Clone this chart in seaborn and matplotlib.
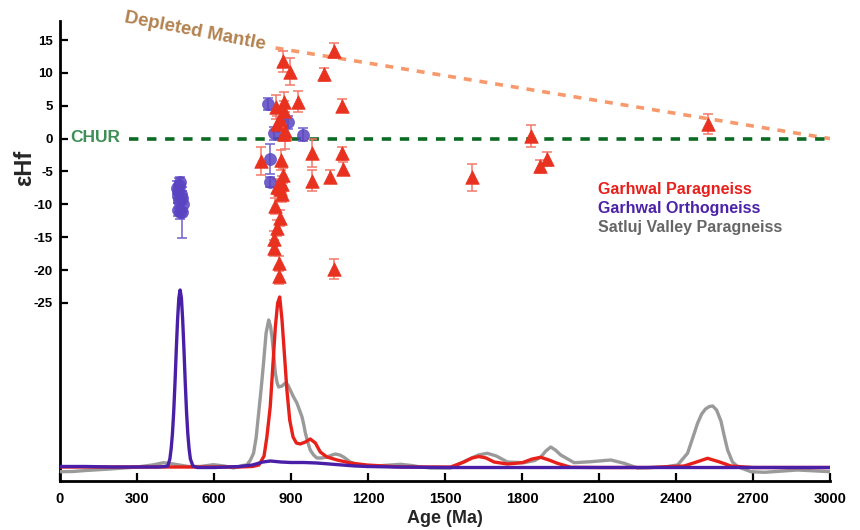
import matplotlib
matplotlib.use("Agg")
import matplotlib.pyplot as plt
import seaborn as sns

# Hf isotope data (age in Ma, epsilon Hf, 2 sigma)
gp_age = [867, 895, 1066, 1027, 1099, 927, 843, 874, 871, 858, 845, 878, 871,
          784, 862, 982, 1099, 1103, 1051, 982, 869, 865, 845, 856, 865, 839,
          856, 845, 835, 835, 852, 852, 1066, 1606, 1834, 1869, 1897, 2524]
gp_ehf = [11.8, 10.2, 13.4, 9.8, 5.0, 5.6, 4.8, 5.6, 4.2, 3.0, 2.2, 1.2, 0.7,
          -3.4, -3.3, -2.2, -2.2, -4.6, -5.8, -6.4, -5.6, -6.9, -7.3, -7.6, -8.4, -10.2,
          -12.1, -13.6, -15.2, -16.7, -19.0, -20.9, -19.8, -5.9, 0.4, -4.2, -3.1, 2.2]
gp_err = [1.6, 2.0, 1.1, 1.0, 1.0, 1.6, 1.8, 1.5, 1.5, 1.5, 1.2, 2.8, 1.0,
          2.1, 1.5, 2.1, 1.0, 1.0, 1.0, 1.6, 1.2, 1.2, 1.2, 1.2, 1.2, 1.2,
          1.2, 1.2, 1.2, 1.2, 1.2, 1.2, 1.5, 2.0, 1.7, 1.0, 1.0, 1.5]

go_age = [810, 887, 835, 945, 817, 819,
          468, 455, 465, 460, 458, 470, 463, 475, 480, 458, 466, 475]
go_ehf = [5.3, 2.5, 0.8, 0.6, -3.1, -6.6,
          -6.6, -7.5, -7.0, -8.0, -8.8, -8.5, -9.5, -9.0, -10.0, -10.8, -11.2, -11.2]
go_err = [0.9, 1.0, 1.0, 1.0, 2.3, 0.8,
          0.8, 1.0, 1.0, 1.0, 1.0, 1.0, 1.0, 1.0, 1.0, 1.0, 1.0, 3.9]

# reference lines
dm_age = [840, 3000]
dm_ehf = [13.8, 0]
chur_age = [270, 3000]
chur_ehf = [0, 0]

# relative probability curves (arbitrary units)
gp_curve_age = [0, 300, 600, 700, 750, 775, 795, 806, 819, 830,
                839, 848, 856, 865, 874, 884, 895, 908, 921, 936,
                956, 975, 995, 1014, 1040, 1080, 1131, 1196, 1260, 1327,
                1450, 1522, 1574, 1605, 1632, 1660, 1691, 1743, 1801, 1840,
                1873, 1905, 1938, 1990, 2100, 2300, 2432, 2480, 2523, 2570,
                2614, 2700, 3000]
gp_curve_h = [1, 1, 1, 1, 1.5, 3, 12, 31, 61, 105,
              141, 165, 171, 148, 115, 78, 48, 31, 25, 24,
              26, 29, 25, 16, 11, 8, 5, 3, 2, 1,
              1, 1, 6, 10, 11.5, 10, 6, 4, 5.3, 9,
              10.7, 8, 4.7, 0.7, 0.5, 0.5, 2, 6, 9.7, 6,
              2, 0.5, 0.5]

go_curve_age = [0, 100, 200, 300, 380, 410, 420, 428, 433, 438,
                443, 448, 453, 458, 463, 468, 473, 478, 483, 488,
                493, 498, 503, 508, 518, 535, 600, 700, 750, 790,
                820, 860, 900, 950, 1000, 1050, 1100, 1150, 1200, 1300,
                1500, 2000, 2500, 3000]
go_curve_h = [1.5, 1.5, 1, 1, 1, 1.5, 2, 9, 19, 34,
              56, 85, 118, 148, 170, 178, 170, 148, 118, 85,
              56, 34, 19, 9, 2, 0.5, 0.5, 1.5, 3, 6,
              7, 6, 5.5, 5.5, 5, 4, 3, 2, 1.5, 1,
              0.5, 0.5, 0.5, 0.5]

sv_curve_age = [0, 50, 100, 195, 300, 360, 403, 442, 500, 546,
                598, 640, 676, 715, 728, 742, 754, 764, 774, 784,
                793, 803, 813, 820, 826, 833, 839, 846, 852, 865,
                878, 888, 897, 910, 923, 933, 943, 950, 956, 965,
                975, 988, 1001, 1020, 1040, 1060, 1073, 1090, 1105, 1131,
                1160, 1196, 1260, 1327, 1370, 1405, 1444, 1522, 1587, 1630,
                1665, 1700, 1743, 1808, 1850, 1873, 1893, 1912, 1930, 1951,
                2003, 2068, 2146, 2198, 2250, 2354, 2406, 2445, 2465, 2484,
                2500, 2515, 2530, 2543, 2558, 2575, 2588, 2601, 2620, 2640,
                2692, 2744, 2874, 3000]
sv_curve_h = [-3.7, -3.5, -2.5, -1, 1, 3, 5.3, 4, 1.5, 1.5,
              3.3, 2, 0, 2.7, 3, 8, 14.7, 30, 55, 80,
              105, 135, 148, 142, 131, 112, 95, 85, 81, 82,
              85, 83, 78, 71, 65, 58, 51, 43, 35, 26,
              18, 13, 10, 10, 11, 13, 14, 13, 11, 6,
              3, 1.5, 2.5, 3.7, 2.5, 1, 0, 0, 8, 13,
              14.7, 12, 6, 5.3, 7.5, 11, 17, 21, 18, 13,
              5.3, 6.3, 8, 4.7, 0, 1, 3, 14.7, 30, 44.7,
              54, 59, 61.5, 62, 58, 47, 32, 18, 6, 1.3,
              -3.7, -4.3, -2, -3.7]

x_ticks = [0, 300, 600, 900, 1200, 1500, 1800, 2100, 2400, 2700, 3000]
y_ticks = [-25, -20, -15, -10, -5, 0, 5, 10, 15]

RED = "#e8311f"
RED_ERR = "#f27868"
PURPLE = "#5a44c2"
PURPLE_LINE = "#4a1fa8"
GREY = "#9a9a9a"

sns.set_theme(style="ticks")
plt.rcParams["font.family"] = ["Liberation Sans", "DejaVu Sans"]
plt.rcParams["axes.unicode_minus"] = False

fig, ax = plt.subplots(figsize=(8.6, 5.3), dpi=100)
fig.subplots_adjust(left=60 / 860, right=830 / 860, bottom=1 - 481 / 530, top=1 - 21 / 530)

# probability curves on a hidden twin axis
ax2 = ax.twinx()
sns.lineplot(x=sv_curve_age, y=sv_curve_h, ax=ax2, color=GREY, lw=2.4, estimator=None, sort=False)
sns.lineplot(x=gp_curve_age, y=gp_curve_h, ax=ax2, color="#e8201a", lw=2.4, estimator=None, sort=False)
sns.lineplot(x=go_curve_age, y=go_curve_h, ax=ax2, color=PURPLE_LINE, lw=2.4, estimator=None, sort=False)
ax2.set_ylim(-13, 447)
ax2.set_yticks([])
ax2.set_ylabel("")
for s in ax2.spines.values():
    s.set_visible(False)

# reference lines
ax.plot(dm_age, dm_ehf, color="#f7996c", lw=2.6, ls=(0, (2.2, 2.2)), zorder=2)
ax.plot(chur_age, chur_ehf, color="#0b6b22", lw=2.6, ls=(0, (2.6, 2.4)), zorder=2)

# error bars + points
ax.errorbar(go_age, go_ehf, yerr=go_err, fmt="none", ecolor="#6f5fd0", elinewidth=1.1,
            capsize=3.5, capthick=1.1, zorder=3)
sns.scatterplot(x=go_age, y=go_ehf, ax=ax, marker="o", s=75, color=PURPLE, alpha=0.85,
                edgecolor=PURPLE, linewidth=0.5, zorder=4)
ax.errorbar(gp_age, gp_ehf, yerr=gp_err, fmt="none", ecolor=RED_ERR, elinewidth=1.1,
            capsize=3.5, capthick=1.1, zorder=3)
sns.scatterplot(x=gp_age, y=gp_ehf, ax=ax, marker="^", s=95, color=RED,
                edgecolor=RED, linewidth=0.5, zorder=5)

# labels on the plot
ax.text(527, 16.3, "Depleted Mantle", rotation=-11, color="#b3824f", fontsize=13.5,
        fontweight="bold", ha="center", va="center")
ax.text(137, 0.2, "CHUR", color="#3d8f55", fontsize=12.5, fontweight="bold",
        ha="center", va="center")
ax.text(2095, -7.7, "Garhwal Paragneiss", color="#e8201c", fontsize=11.5,
        fontweight="bold", ha="left", va="center")
ax.text(2095, -10.6, "Garhwal Orthogneiss", color="#4b22a8", fontsize=11.5,
        fontweight="bold", ha="left", va="center")
ax.text(2095, -13.5, "Satluj Valley Paragneiss", color="#666666", fontsize=11.5,
        fontweight="bold", ha="left", va="center")

ax.set_xlim(0, 3000)
ax.set_ylim(-52.1, 17.9)
ax.set_xticks(x_ticks)
ax.set_yticks(y_ticks)
ax.tick_params(axis="both", direction="in", length=6, width=1.6, colors="black")
ax.tick_params(axis="x", labelsize=10.5, pad=8)
ax.tick_params(axis="y", labelsize=9.5, pad=5)
for lab in ax.get_xticklabels() + ax.get_yticklabels():
    lab.set_fontweight("bold")

sns.despine(ax=ax)
ax.spines["left"].set_linewidth(2)
ax.spines["bottom"].set_linewidth(2)
ax.spines["left"].set_color("black")
ax.spines["bottom"].set_color("black")

ax.set_xlabel("Age (Ma)", fontsize=13, fontweight="bold")
ax.xaxis.set_label_coords(0.5, -0.063)
ax.set_ylabel("")
fig.text(25 / 860, 1 - 168 / 530, "εHf", rotation=90, fontsize=17, fontweight="bold",
         ha="center", va="center")

fig.savefig("out.png", dpi=100)
